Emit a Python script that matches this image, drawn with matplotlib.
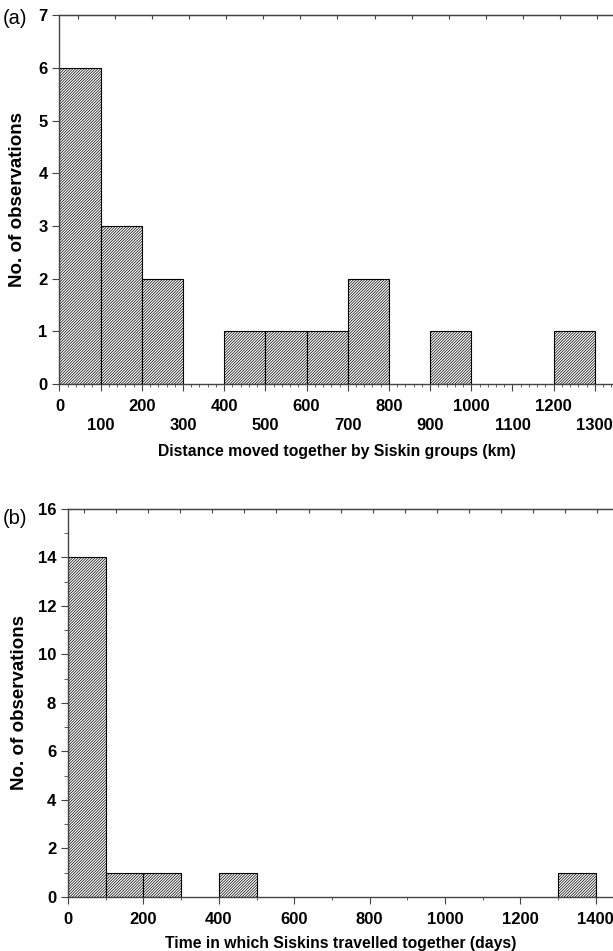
import matplotlib
matplotlib.use("Agg")
from matplotlib import pyplot as plt
from matplotlib.ticker import MultipleLocator, FixedLocator

plt.rcParams['font.family'] = ['Liberation Sans', 'DejaVu Sans']
plt.rcParams['hatch.linewidth'] = 0.5
plt.rcParams['hatch.color'] = '#808080'

# (a) distance moved together, 100 km bins
dist_edges = [0, 100, 200, 300, 400, 500, 600, 700, 800, 900, 1000, 1100, 1200, 1300]
dist_counts = [6, 3, 2, 0, 1, 1, 1, 2, 0, 1, 0, 0, 1]

# (b) time travelled together, 100 day bins
time_edges = [0, 100, 200, 300, 400, 500, 600, 700, 800, 900, 1000, 1100, 1200, 1300, 1400]
time_counts = [14, 1, 1, 0, 1, 0, 0, 0, 0, 0, 0, 0, 0, 1]

spine_col = '#444444'

fig = plt.figure(figsize=(6.13, 9.51), dpi=100)
ax1 = fig.add_axes([0.097, 0.596, 0.905, 0.388])
ax2 = fig.add_axes([0.111, 0.0568, 0.891, 0.408])


def draw_hist(ax, edges, counts):
    lefts = edges[:-1]
    widths = [edges[i + 1] - edges[i] for i in range(len(lefts))]
    for x, w, c in zip(lefts, widths, counts):
        if c > 0:
            ax.bar(x, c, width=w, align='edge', facecolor='white',
                   edgecolor='black', hatch='/' * 12, linewidth=0.8, zorder=2)
    for sp in ax.spines.values():
        sp.set_color(spine_col)
        sp.set_linewidth(1.0)
    ax.tick_params(axis='both', which='both', colors=spine_col, labelcolor='black')
    ax.tick_params(axis='y', which='major', direction='out', length=5)
    ax.tick_params(axis='y', which='minor', direction='out', length=3)
    ax.tick_params(axis='x', which='major', direction='out', length=5, pad=6)
    ax.tick_params(axis='x', which='minor', direction='out', length=2.5)


# panel (a)
draw_hist(ax1, dist_edges, dist_counts)
ax1.set_xlim(0, 1347)
ax1.set_ylim(0, 7)
ax1.set_yticks(range(0, 8))
ax1.set_xticks(dist_edges)
ax1.set_xticklabels([str(v) if i % 2 == 0 else '\n' + str(v) for i, v in enumerate(dist_edges)],
                    fontweight='bold', fontsize=12, linespacing=1.3)
ax1.xaxis.set_minor_locator(MultipleLocator(20))
ax1.set_yticklabels([str(v) for v in range(0, 8)], fontweight='bold', fontsize=12)
ax1.set_xlabel('Distance moved together by Siskin groups (km)', fontweight='bold',
               fontsize=11.3, labelpad=8)
ax1.set_ylabel('No. of observations', fontweight='bold', fontsize=13.5, labelpad=9)
top1 = ax1.secondary_xaxis('top')
top1.xaxis.set_major_locator(FixedLocator([45 + 90 * k for k in range(15)]))
top1.tick_params(direction='in', length=3, labeltop=False, colors=spine_col)
top1.spines['top'].set_color(spine_col)
fig.text(0.005, 0.981, '(a)', fontsize=14.5, va='center', ha='left')

# panel (b)
draw_hist(ax2, time_edges, time_counts)
ax2.set_xlim(0, 1449)
ax2.set_ylim(0, 16)
ax2.set_yticks(range(0, 17, 2))
ax2.set_yticklabels([str(v) for v in range(0, 17, 2)], fontweight='bold', fontsize=12)
ax2.yaxis.set_minor_locator(MultipleLocator(1))
ax2.set_xticks(range(0, 1401, 200))
ax2.set_xticklabels([str(v) for v in range(0, 1401, 200)], fontweight='bold', fontsize=12)
ax2.xaxis.set_minor_locator(MultipleLocator(100))
ax2.set_xlabel('Time in which Siskins travelled together (days)', fontweight='bold',
               fontsize=11.3, labelpad=6)
ax2.set_ylabel('No. of observations', fontweight='bold', fontsize=13.5, labelpad=7)
top2 = ax2.secondary_xaxis('top')
top2.xaxis.set_major_locator(FixedLocator([43 + 85 * k for k in range(17)]))
top2.tick_params(direction='in', length=3, labeltop=False, colors=spine_col)
top2.spines['top'].set_color(spine_col)
fig.text(0.005, 0.455, '(b)', fontsize=14.5, va='center', ha='left')

fig.savefig('out.png', dpi=100, facecolor='white')
